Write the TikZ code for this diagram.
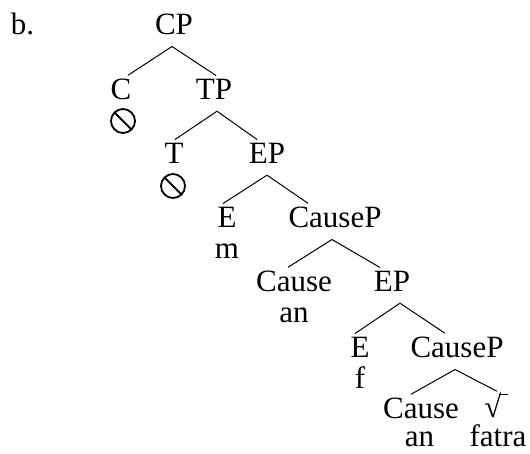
\documentclass[tikz,border=0pt]{standalone}
\usepackage{fontspec}
\setmainfont{Liberation Serif}
\usepackage{tikz}

\tikzset{
  lbl/.style={anchor=base, inner sep=0pt, font=\fontsize{31}{37}\selectfont},
  nullmark/.style={circle, draw, line width=1.8pt, minimum size=24pt, inner sep=0pt,
    path picture={\draw[line width=1.8pt] (path picture bounding box.north west) -- (path picture bounding box.south east);}},
  branch/.style={line width=1pt}
}

\begin{document}
\begin{tikzpicture}[x=1pt,y=-1pt]
\useasboundingbox (0,0) rectangle (530,453);

% labels, one row at a time
\node[lbl] (b) at (22.5,34) {b.};
\node[lbl] (CP) at (174,34) {CP};

\node[lbl] (C) at (121,99) {C};
\node[nullmark] (Cnull) at (123,121) {};
\node[lbl] (TP) at (214,99) {TP};

\node[lbl] (T) at (174,163) {T};
\node[nullmark] (Tnull) at (173,186) {};
\node[lbl] (EP1) at (267,163) {EP};

\node[lbl] (E1) at (227,227) {E};
\node[lbl] (m) at (227,258) {m};
\node[lbl] (CauseP1) at (335,227) {CauseP};

\node[lbl] (Cause1) at (294,291) {Cause};
\node[lbl] (an1) at (294,322) {an};
\node[lbl] (EP2) at (392,291) {EP};

\node[lbl] (E2) at (360,357) {E};
\node[lbl] (f) at (360,388) {f};
\node[lbl] (CauseP2) at (457,357) {CauseP};

\node[lbl] (Cause2) at (421,418) {Cause};
\node[lbl] (an2) at (419.5,446) {an};
\node[lbl, font=\fontsize{31}{37}\bfseries] (root) at (493,417) {√};
\node[lbl] (fatra) at (498,446) {fatra};
% bar on top of the root sign
\draw[line width=1.4pt] ([xshift=-3pt,yshift=-2.5pt]root.north east) -- ++(9,0);

% branches
\draw[branch] ([xshift=-2pt,yshift=-12pt]CP.south) -- ([xshift=7pt,yshift=3pt]C.north);
\draw[branch] ([xshift=-2pt,yshift=-12pt]CP.south) -- ([xshift=2pt,yshift=3pt]TP.north);

\draw[branch] ([xshift=3pt,yshift=-12pt]TP.south) -- ([xshift=1pt,yshift=3pt]T.north);
\draw[branch] ([xshift=3pt,yshift=-12pt]TP.south) -- ([xshift=-10pt,yshift=3pt]EP1.north);

\draw[branch] ([yshift=-12pt]EP1.south) -- ([xshift=-4pt,yshift=3pt]E1.north);
\draw[branch] ([yshift=-12pt]EP1.south) -- ([xshift=-27pt,yshift=3pt]CauseP1.north);

\draw[branch] ([xshift=-3pt,yshift=-12pt]CauseP1.south) -- ([xshift=-6pt,yshift=3pt]Cause1.north);
\draw[branch] ([xshift=-3pt,yshift=-12pt]CauseP1.south) -- ([xshift=-12pt,yshift=3pt]EP2.north);

\draw[branch] ([xshift=8pt,yshift=-12pt]EP2.south) -- ([xshift=-5pt,yshift=3pt]E2.north);
\draw[branch] ([xshift=8pt,yshift=-12pt]EP2.south) -- ([xshift=-12pt,yshift=3pt]CauseP2.north);

\draw[branch] ([xshift=-2pt,yshift=-12pt]CauseP2.south) -- ([xshift=-10pt,yshift=3pt]Cause2.north);
\draw[branch] ([xshift=-2pt,yshift=-12pt]CauseP2.south) -- ([xshift=4pt,yshift=1pt]root.north);
\end{tikzpicture}
\end{document}
